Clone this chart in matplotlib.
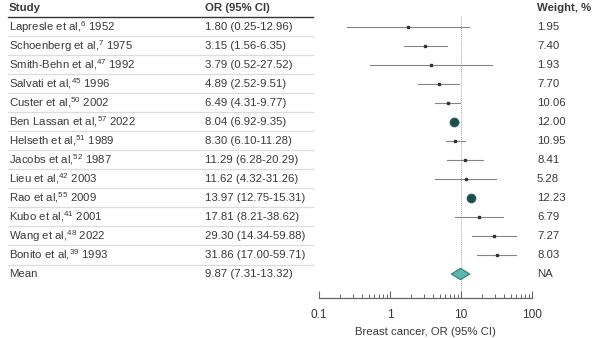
import matplotlib
matplotlib.use("Agg")
import matplotlib.pyplot as plt
from matplotlib.transforms import blended_transform_factory
from matplotlib.ticker import LogLocator, NullFormatter, FixedLocator
import numpy as np

plt.rcParams["font.family"] = ["Liberation Sans", "DejaVu Sans"]
plt.rcParams["mathtext.default"] = "regular"

studies = ["Lapresle et al,$^{6}$ 1952", "Schoenberg et al,$^{7}$ 1975",
           "Smith-Behn et al,$^{47}$ 1992", "Salvati et al,$^{45}$ 1996",
           "Custer et al,$^{50}$ 2002", "Ben Lassan et al,$^{57}$ 2022",
           "Helseth et al,$^{51}$ 1989", "Jacobs et al,$^{52}$ 1987",
           "Lieu et al,$^{42}$ 2003", "Rao et al,$^{55}$ 2009",
           "Kubo et al,$^{41}$ 2001", "Wang et al,$^{48}$ 2022",
           "Bonito et al,$^{39}$ 1993"]
odds = [1.80, 3.15, 3.79, 4.89, 6.49, 8.04, 8.30, 11.29, 11.62, 13.97, 17.81, 29.30, 31.86]
ci_low = [0.25, 1.56, 0.52, 2.52, 4.31, 6.92, 6.10, 6.28, 4.32, 12.75, 8.21, 14.34, 17.00]
ci_high = [12.96, 6.35, 27.52, 9.51, 9.77, 9.35, 11.28, 20.29, 31.26, 15.31, 38.62, 59.88, 59.71]
weights = ["1.95", "7.40", "1.93", "7.70", "10.06", "12.00", "10.95", "8.41",
           "5.28", "12.23", "6.79", "7.27", "8.03"]
mean_or, mean_low, mean_high = 9.87, 7.31, 13.32

W, H = 600, 338
fig = plt.figure(figsize=(W / 100, H / 100), dpi=100)
ax = fig.add_axes([319 / W, 1 - 298 / H, 213 / W, 298 / H])
ax.set_xscale("log")
ax.set_xlim(0.1, 100)
n = len(studies)
ax.set_ylim(14.26, -1.4)

txt = "#3a3a3a"
fs = 8.2
tr = blended_transform_factory(fig.transFigure, ax.transData)

# header
ax.text(9 / W, -1, "Study", transform=tr, fontsize=fs, fontweight="bold", color=txt, va="center")
ax.text(205 / W, -1, "OR (95% CI)", transform=tr, fontsize=fs, fontweight="bold", color=txt, va="center")
ax.text(537 / W, -1, "Weight, %", transform=tr, fontsize=fs, fontweight="bold", color=txt, va="center")
ax.plot([8 / W, 313 / W], [-0.5, -0.5], transform=tr, color="#333333", lw=1.0, clip_on=False)

for i in range(n):
    ax.text(9 / W, i, studies[i], transform=tr, fontsize=fs, color=txt, va="center")
    ax.text(205 / W, i, f"{odds[i]:.2f} ({ci_low[i]:.2f}-{ci_high[i]:.2f})",
            transform=tr, fontsize=fs, color=txt, va="center")
    ax.text(537 / W, i, weights[i], transform=tr, fontsize=fs, color=txt, va="center")
    ax.plot([8 / W, 313 / W], [i + 0.5, i + 0.5], transform=tr, color="#dcdcdc", lw=0.9, clip_on=False)

    ax.plot([ci_low[i], ci_high[i]], [i, i], color="#858585", lw=0.8, zorder=2)
    if float(weights[i]) > 11.5:
        ax.plot(odds[i], i, "o", ms=6, color="#1e4d48", mec="#2a5e58", zorder=3)
    else:
        ax.plot(odds[i], i, "s", ms=1.8, color="#333333", zorder=3)

# mean row
ax.text(9 / W, n, "Mean", transform=tr, fontsize=fs, color=txt, va="center")
ax.text(205 / W, n, f"{mean_or:.2f} ({mean_low:.2f}-{mean_high:.2f})",
        transform=tr, fontsize=fs, color=txt, va="center")
ax.text(537 / W, n, "NA", transform=tr, fontsize=fs, color=txt, va="center")
dx = [mean_low, mean_or, mean_high, mean_or, mean_low]
dy = [n, n - 0.3, n, n + 0.3, n]
ax.fill(dx, dy, facecolor="#5cb5ae", edgecolor="#3a7d77", lw=0.8, zorder=3)

ax.plot([10, 10], [-0.55, 14.26], color="#aaaaaa", lw=0.7, ls=(0, (1, 1)), zorder=1)

for s in ["top", "left", "right"]:
    ax.spines[s].set_visible(False)
ax.spines["bottom"].set_color("#666666")
ax.spines["bottom"].set_linewidth(0.9)
ax.set_yticks([])
ax.xaxis.set_major_locator(FixedLocator([0.1, 1, 10, 100]))
ax.xaxis.set_minor_locator(LogLocator(base=10, subs=np.arange(2, 10)))
ax.xaxis.set_minor_formatter(NullFormatter())
ax.set_xticklabels(["0.1", "1", "10", "100"])
ax.tick_params(axis="x", which="major", direction="in", length=5, width=0.8,
               colors="#666666", labelcolor=txt, labelsize=8.6, pad=8)
ax.tick_params(axis="x", which="minor", direction="in", length=3, width=0.7, colors="#666666")
ax.set_xlabel("Breast cancer, OR (95% CI)", fontsize=fs, color=txt, labelpad=4)

fig.savefig("out.png", dpi=100)
